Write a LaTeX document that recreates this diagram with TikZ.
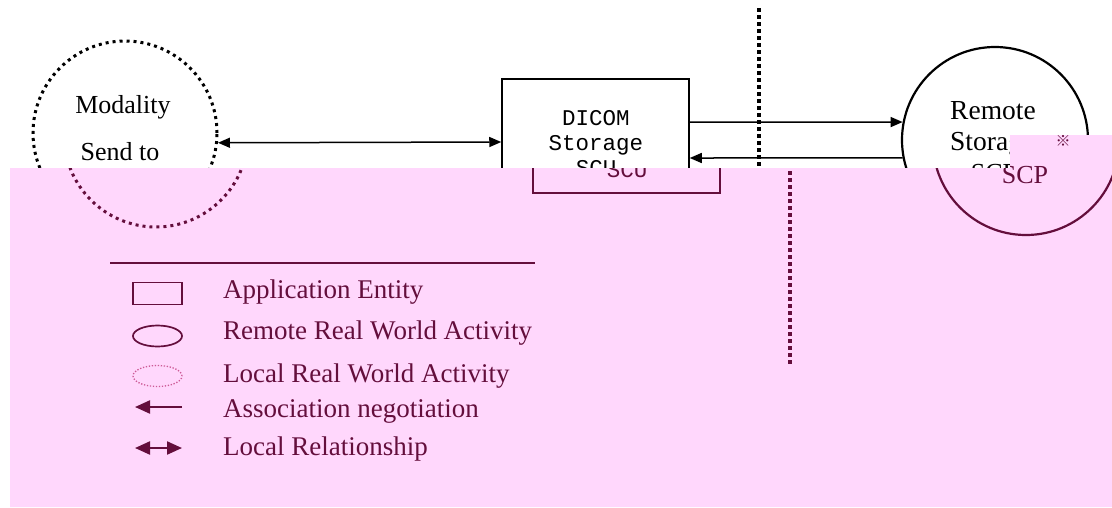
\documentclass[tikz,border=0pt]{standalone}
\usepackage{fontspec}
\setmainfont{Liberation Serif}
\setmonofont{Liberation Mono}
\newfontfamily\cjk{Noto Sans CJK SC}
\usetikzlibrary{arrows.meta, shapes.geometric}
\definecolor{pinkbg}{RGB}{255,215,252}
\definecolor{maroon}{RGB}{100,14,60}
\definecolor{dotpink}{RGB}{205,90,150}

\begin{document}
\begin{tikzpicture}[x=1pt, y=-1pt,
  onearrow/.style = {-{Triangle[length=12pt,width=10pt]}, line width=1.5pt},
  both/.style = {{Triangle[length=12pt,width=10pt]}-{Triangle[length=12pt,width=10pt]}, line width=1.5pt},
  local/.style = {draw, circle, minimum size=184pt, inner sep=0pt, line width=3pt, dash pattern=on 3pt off 4pt},
  remote/.style = {draw, circle, minimum size=186pt, inner sep=0pt, line width=2.2pt},
  entity/.style = {draw, rectangle, minimum width=187pt, minimum height=112pt, inner sep=0pt, line width=1.5pt},
  txt/.style = {font=\fontsize{26}{30}\selectfont, inner sep=0pt, anchor=base},
  remtxt/.style = {font=\fontsize{27.5}{30}\selectfont, inner sep=0pt, anchor=base west},
  keytxt/.style = {font=\fontsize{27}{30}\selectfont, inner sep=0pt, anchor=base west, text=maroon},
  mono/.style = {font=\ttfamily\fontsize{22.5}{25}\selectfont, inner sep=0pt, anchor=base},
  boundary/.style = {line width=3.5pt, dash pattern=on 3.5pt off 3.5pt}]
  \useasboundingbox (0,0) rectangle (1112,507);

  % diagram
  \node[local] (mod) at (125,133) {};
  \node[txt] (modA) at (123,113) {Modality};
  \node[txt] (modB) at (120,160) {Send to};
  \node[entity] (ae) at (595.5,135) {};
  \node[mono] (aeA) at (596,125) {DICOM};
  \node[mono] (aeB) at (596,150) {Storage};
  \node[mono] (aeC) at (596,175) {SCU};
  \node[remote] (rem) at (995,140) {};
  \node[remtxt] (remA) at (950,119) {Remote};
  \node[remtxt] (remB) at (950,150) {Storage};
  \node[txt] (remC) at (994,181) {SCP};
  \coordinate (lineTop) at (759,8);
  \coordinate (lineEnd) at (759,365);
  \draw[boundary] (lineTop) -- (lineEnd);

  \draw[both] (mod.354) -- ([yshift=-7pt]ae.west);
  \draw[onearrow] ([yshift=13pt]ae.east) -- (rem.169);
  \draw[onearrow] (rem.191) -- ([yshift=-23pt]ae.east);

  % pink part
  \fill[pinkbg] (10,168) -- (1010,168) -- (1010,135) -- (1112,135) -- (1112,507) -- (10,507) -- cycle;
  \begin{scope}
    \clip (10,168) -- (1010,168) -- (1010,135) -- (1112,135) -- (1112,507) -- (10,507) -- cycle;
    \begin{scope}[shift={(31,2)}, maroon]
      \node[local] (mod2) at (125,133) {};
      \node[entity] (ae2) at (595.5,135) {};
      \node[mono, text=maroon] (aeC2) at (596,175) {SCU};
      \node[remote] (rem2) at (995,140) {};
      \node[txt, text=maroon] (remC2) at (994,181) {SCP};
      \coordinate (lineTop2) at (759,8);
      \coordinate (lineEnd2) at (759,365);
      \draw[boundary] (lineTop2) -- (lineEnd2);
    \end{scope}
  \end{scope}
  \node[font=\cjk\fontsize{15}{15}\selectfont, text=maroon, inner sep=0pt] (mark) at (1063,141) {※};

  % legend
  \coordinate (ruleA) at (110,263);
  \coordinate (ruleB) at (535,263);
  \draw[maroon, line width=1.5pt] (ruleA) -- (ruleB);
  \node[draw=maroon, line width=1.7pt, minimum width=49pt, minimum height=22pt, inner sep=0pt] (keyAE) at (157.5,293.5) {};
  \node[keytxt] (keyAEt) at (223,298) {Application Entity};
  \node[draw=maroon, ellipse, line width=1.7pt, minimum width=49pt, minimum height=21pt, inner sep=0pt] (keyRem) at (157.5,336) {};
  \node[keytxt] (keyRemt) at (223,339) {Remote Real World Activity};
  \node[draw=dotpink, ellipse, line width=1.3pt, dash pattern=on 1.3pt off 1.7pt, minimum width=49pt, minimum height=21pt, inner sep=0pt] (keyLoc) at (157.5,376) {};
  \node[keytxt] (keyLoct) at (223,382) {Local Real World Activity};
  \coordinate (keyArrA) at (182,407);
  \coordinate (keyArrB) at (135,407);
  \draw[-{Triangle[length=15pt,width=13pt]}, maroon, line width=2.2pt] (keyArrA) -- (keyArrB);
  \node[keytxt] (keyArrt) at (223,417) {Association negotiation};
  \coordinate (keyBothA) at (135,448);
  \coordinate (keyBothB) at (182,448);
  \draw[{Triangle[length=15pt,width=13pt]}-{Triangle[length=15pt,width=13pt]}, maroon, line width=2.2pt] (keyBothA) -- (keyBothB);
  \node[keytxt] (keyBotht) at (223,455) {Local Relationship};
\end{tikzpicture}
\end{document}
